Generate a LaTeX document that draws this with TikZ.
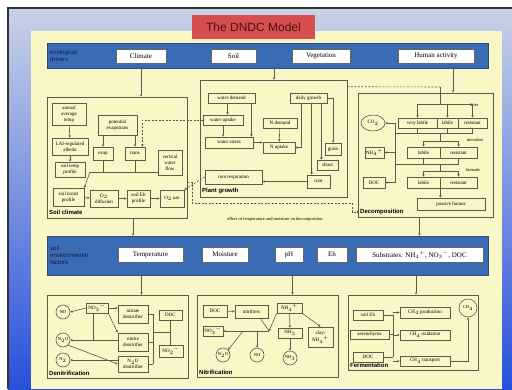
\documentclass[tikz,border=0pt]{standalone}
\usepackage{fontspec}
\setmainfont{Liberation Serif}
\setsansfont{Liberation Sans}
\usetikzlibrary{arrows.meta,shapes.geometric,calc}
\definecolor{panel}{RGB}{250,247,198}
\definecolor{bandblue}{RGB}{58,108,182}
\definecolor{titlered}{RGB}{214,78,78}
\definecolor{titletxt}{RGB}{80,15,15}
\definecolor{bgtop}{RGB}{200,210,230}
\definecolor{bgbot}{RGB}{40,80,220}
\definecolor{edge}{RGB}{90,90,80}
\definecolor{navy}{RGB}{20,25,60}
\tikzset{
 box/.style={draw=edge, line width=0.6pt, inner sep=0pt, align=center, font=\fontsize{5}{5.8}\selectfont},
 wbox/.style={draw=black!60, fill=white, line width=0.5pt, inner sep=0pt, font=\fontsize{7}{8}\selectfont},
 circ/.style={circle, draw=edge, line width=0.6pt, inner sep=0pt, minimum size=14pt, font=\fontsize{4.5}{5}\selectfont},
 conn/.style={draw=edge, line width=0.6pt},
 arw/.style={conn, -{Stealth[length=2.5pt,width=2.5pt]}},
 dconn/.style={conn, dash pattern=on 2pt off 1.5pt},
 sublab/.style={font=\sffamily\bfseries\fontsize{6}{7}\selectfont, anchor=west, inner sep=1pt},
 lab/.style={font=\fontsize{4.5}{5}\selectfont, inner sep=0pt},
 bandlab/.style={font=\sffamily\fontsize{6}{6.8}\selectfont, text=navy, align=left, anchor=west, inner sep=0pt},
}
\newcommand{\mybox}[7][]{\node[box,minimum width={(#5-#3)*1pt},minimum height={(#6-#4)*1pt},#1] (#2) at ({(#3+#5)/2},{(#4+#6)/2}) {#7};}
\begin{document}
\begin{tikzpicture}[x=1pt,y=-1pt]
\useasboundingbox (0,0) rectangle (512,389);
\fill[white] (0,0) rectangle (512,389);
\shade[top color=bgtop, bottom color=bgbot] (8,8) rectangle (512,389);
\draw[line width=1.5pt, black!80] (8,389) -- (8,8) -- (512,8);
\fill[panel] (31,31) rectangle (502,389);
% title
\mybox[fill=titlered, draw=none, text=titletxt, font=\sffamily\fontsize{12}{12}\selectfont]{title}{192}{15}{315}{39}{The DNDC Model}
% band 1
\mybox[fill=bandblue, draw=bandblue!70!black]{band1}{47}{43}{488}{68}{}
\node[bandlab] (eco) at (50,55.5) {ecological\\drivers};
\mybox[wbox]{climate}{116}{49}{166}{63}{Climate}
\mybox[wbox]{soil}{211}{49}{256}{63}{Soil}
\mybox[wbox]{veg}{292}{49}{350}{63}{Vegetation}
\mybox[wbox]{human}{398}{49}{474}{63}{Human activity}
% soil climate
\mybox{sc}{47}{97}{187}{218}{}
\node[sublab] (sclab) at (48,212) {Soil climate};
\mybox{aat}{52}{103}{86}{125}{annual\\average\\temp}
\mybox{lai}{52}{138}{88}{155}{LAI-regulated\\albedo}
\mybox{stp}{55}{162}{85}{177}{soil temp\\profile}
\mybox{pet}{98}{115}{137}{135}{potential\\evapotrans}
\mybox{evap}{93}{147}{113}{160}{evap}
\mybox{trans}{125}{147}{145}{160}{trans}
\mybox{vwf}{158}{150}{182}{175}{vertical\\water\\flow}
\mybox{smp}{53}{188}{84}{206}{soil moist\\profile}
\mybox{dif}{90}{190}{118}{207}{O$_2$\\diffusion}
\mybox{seh}{127}{190}{150}{207}{soil Eh\\profile}
\mybox{o2u}{160}{190}{184}{207}{O$_2$ use}
\draw[arw] (aat) -- (lai);
\draw[arw] (lai) -- (stp);
\draw[arw] (pet.south -| evap.north) -- (evap.north);
\draw[arw] (pet.south -| trans.north) -- (trans.north);
\coordinate (jl) at (90,172);
\draw[conn] (jl) -- (vwf.west |- jl);
\draw[conn] (evap) -- (evap |- jl);
\draw[conn] (trans) -- (trans |- jl);
\draw[arw] (jl) -- (smp.north east);
\draw[arw] (smp) -- (dif);
\draw[arw] (dif) -- (seh);
\draw[arw] (seh) -- (o2u);
\draw[arw] (climate |- band1.south) -- (climate |- sc.north);
% plant growth
\mybox{pg}{200}{80}{347}{197}{}
\node[sublab] (pglab) at (201,191) {Plant growth};
\mybox{wdem}{208}{93}{255}{103}{water demand}
\mybox{wupt}{203}{115}{243}{125}{water uptake}
\mybox{wstr}{205}{137}{253}{148}{water stress}
\mybox{dgr}{290}{93}{327}{103}{daily growth}
\mybox{ndem}{263}{118}{297}{128}{N demand}
\mybox{nupt}{263}{142}{295}{153}{N uptake}
\mybox{grain}{325}{143}{341}{155}{grain}
\mybox{shoot}{317}{160}{338}{170}{shoot}
\mybox{root}{307}{175}{330}{188}{root}
\mybox{rresp}{205}{170}{262}{184}{root respiration}
\draw[arw] ([xshift=-4]wdem.south) -- ([xshift=-4]wdem.south |- wupt.north);
\draw[arw] (wupt) -- (wupt |- wstr.north);
\draw[arw] ([xshift=-4]wdem.south east) -- ([xshift=-4]wdem.south east |- wstr.north);
\draw[arw] (wstr.east) -- (nupt.west |- wstr.east);
\draw[arw] (ndem) -- (nupt);
\draw[arw] ([xshift=12]dgr.south west) |- (nupt.east);
\draw[arw] (dgr.east) -| (grain.north);
\draw[arw] ([xshift=-6]dgr.south east) -- ([xshift=-6]dgr.south east |- shoot.north);
\draw[arw] ([xshift=22]dgr.south west) -- ([xshift=22]dgr.south west |- root.north);
\draw[arw] (root.west) -- (rresp.east |- root.west);
\coordinate (sv) at ($(soil.east)!0.5!(veg.west)$);
\draw[arw] (sv |- band1.south) -- (sv |- pg.north);
\draw[dconn,-{Stealth[length=2.5pt,width=2.5pt]}] (wupt.west) -| ([xshift=-3]trans.north east);
\draw[dconn,-{Stealth[length=2.5pt,width=2.5pt]}] (rresp.west) -- (o2u.north east);
% effect text
\node[lab] (eff) at (275,219) {effect of temperature and moisture on decomposition};
% decomposition
\mybox{dc}{358}{93}{493}{217}{}
\node[sublab] (declab) at (359,212) {Decomposition};
\node[ellipse, draw=edge, line width=0.6pt, inner sep=0pt, minimum width=24pt, minimum height=16pt, font=\fontsize{5}{5}\selectfont] (co2) at (373,123) {CO$_2$};
\mybox{nh4}{365}{147}{384}{158}{NH$_4{}^+$}
\mybox{doca}{363}{177}{385}{188}{DOC}
\mybox{vl}{398}{118}{437}{128}{very labile}
\mybox{la}{437}{118}{458}{128}{labile}
\mybox{ra}{458}{118}{487}{128}{resistant}
\node[lab] (litter) at (474,105) {litter};
\mybox{lb}{407}{147}{440}{158}{labile}
\mybox{rb}{440}{147}{477}{158}{resistant}
\node[lab] (microbes) at (475,140) {microbes};
\mybox{lc}{407}{177}{440}{188}{labile}
\mybox{rc}{440}{177}{477}{188}{resistant}
\node[lab] (humads) at (473,170) {humads};
\mybox{phum}{417}{198}{485}{210}{passive humus}
\coordinate (lt) at (440,87);
\coordinate (brk) at (440,104);
\draw[dconn] ([yshift=-7]pg.north east) -- (lt);
\draw[conn] (lt) -- (brk);
\draw[conn] (vl.north |- brk) -- (ra.north |- brk);
\draw[arw] (vl.north |- brk) -- (vl.north);
\draw[arw] (la.north |- brk) -- (la.north);
\draw[arw] (ra.north |- brk) -- (ra.north);
\draw[arw] ([xshift=17]human.south |- band1.south) -- ([xshift=17]human.south |- dc.north);
\coordinate (b1) at (440,133);
\coordinate (b2) at (440,141);
\coordinate (b3) at (440,164);
\coordinate (b4) at (440,171);
\draw[conn] (vl.south) -- (vl.south |- b1);
\draw[conn] (la.south) -- (la.south |- b1);
\draw[conn] (ra.south) -- (ra.south |- b1);
\draw[conn] (vl.south |- b1) -- (ra.south |- b1);
\draw[conn] (b1) -- (b2);
\draw[conn] (lb.north |- b2) -- (rb.north |- b2);
\draw[arw] (lb.north |- b2) -- (lb.north);
\draw[arw] (rb.north |- b2) -- (rb.north);
\draw[conn] (lb.south) -- (lb.south |- b3);
\draw[conn] (rb.south) -- (rb.south |- b3);
\draw[conn] (lb.south |- b3) -- (rb.south |- b3);
\draw[conn] (b3) -- (b4);
\draw[conn] (lc.north |- b4) -- (rc.north |- b4);
\draw[arw] (lc.north |- b4) -- (lc.north);
\draw[arw] (rc.north |- b4) -- (rc.north);
\draw[arw] (lc.south east) -- (lc.south east |- phum.north);
\coordinate (bt) at (395,123);
\coordinate (bb) at (395,182.5);
\draw[conn] (bt) -- (bb);
\draw[arw] (bt) -- (co2.east);
\draw[arw] (nh4.east -| bt) -- (nh4.east);
\draw[arw] (doca.east -| bt) -- (doca.east);
\draw[conn] (bt |- b1) -- (vl.south |- b1);
\draw[conn] (bt |- b3) -- (lb.south |- b3);
\coordinate (d1) at (192,203);
\coordinate (d2) at (352,203);
\draw[dconn,-{Stealth[length=2.5pt,width=2.5pt]}] ([yshift=-25]sc.east) -| (d1) -- (d2) |- (declab.west);
% band 2
\mybox[fill=bandblue, draw=bandblue!70!black]{band2}{47}{236}{488}{275}{}
\node[bandlab] (env) at (50,255.5) {soil\\environmental\\factors};
\mybox[wbox]{temp}{118}{247}{183}{262}{Temperature}
\mybox[wbox]{moist}{202}{247}{248}{262}{Moisture}
\mybox[wbox]{phv}{275}{247}{303}{262}{pH}
\mybox[wbox]{eh}{317}{247}{347}{262}{Eh}
\mybox[wbox]{subs}{356}{247}{483}{262}{Substrates: NH$_4{}^+$, NO$_3{}^-$, DOC}
\draw[arw] ([xshift=16]sc.south) -- ([xshift=16]sc.south |- band2.north);
\draw[arw] ([xshift=-6]dc.south) -- ([xshift=-6]dc.south |- band2.north);
% denitrification
\mybox{dn}{47}{295}{188}{378}{}
\node[sublab] (dnlab) at (48,373) {Denitrification};
\node[circ] (cno) at (63,312) {NO};
\node[circ] (cn2o) at (63,340) {N$_2$O};
\node[circ] (cn2) at (63,360) {N$_2$};
\mybox{dno3}{86}{303}{108}{313}{NO$_3{}^-$}
\mybox{nad}{118}{305}{148}{323}{nitrate\\denitrifier}
\mybox{nid}{118}{333}{148}{351}{nitrite\\denitrifier}
\mybox{n2od}{118}{356}{148}{372}{N$_2$O\\denitrifier}
\mybox{ddoc}{159}{310}{182}{320}{DOC}
\mybox{dno2}{159}{345}{183}{357}{NO$_2{}^-$}
\draw[arw] ([xshift=24]dn.north |- band2.south) -- ([xshift=24]dn.north);
\draw[arw] (dno3.east) -- (nad.west |- dno3.east);
\draw[arw] (dno3.west) -- (cno.east);
\draw[arw] (dno3.south east) -- (nid.north west);
\draw[conn] ([xshift=-4]dno3.south) -- ([xshift=-4]dno3.south |- cn2o.east);
\draw[arw] (nid.west |- cn2o.east) -- (cn2o.east);
\draw[arw] (cn2o.south east) -- (n2od.west);
\draw[arw] (n2od.west |- cn2.east) -- (cn2.east);
\coordinate (rb1) at (153,314);
\coordinate (rj) at (170,332);
\draw[conn] (nad.east) -- (nad.east -| rb1);
\draw[conn] (nid.east) -- (nid.east -| rb1);
\draw[conn] (n2od.east) -- (n2od.east -| rb1);
\draw[conn] (rb1 |- nad.east) -- (rb1 |- n2od.east);
\draw[conn] (rb1 |- rj) -- (rj);
\draw[conn] (ddoc.south -| rj) -- (dno2.north -| rj);
% nitrification
\mybox{nt}{197}{295}{338}{377}{}
\node[sublab] (ntlab) at (198,372) {Nitrification};
\mybox{ndoc}{203}{305}{227}{317}{DOC}
\mybox{nitr}{235}{305}{268}{318}{nitrifiers}
\mybox{nnh4}{277}{303}{302}{313}{NH$_4{}^+$}
\mybox{nno3}{203}{326}{223}{336}{NO$_3{}^-$}
\mybox{nnh3}{278}{328}{302}{338}{NH$_3$}
\mybox{clay}{308}{327}{333}{347}{clay-\\NH$_4{}^+$}
\node[circ] (tn2o) at (223,355) {N$_2$O};
\node[circ] (tno) at (257,355) {NO};
\node[circ] (tnh3) at (290,358) {NH$_3$};
\draw[arw] ([xshift=25]nt.north |- band2.south) -- ([xshift=25]nt.north);
\draw[arw] (ndoc) -- (nitr);
\coordinate (nj) at (269,331);
\draw[arw] (nnh4.south west) -- (nj);
\draw[conn] ([xshift=-8]nitr.south east) -- (nj);
\draw[arw] (nj) -- (nno3.east |- nj);
\draw[arw] (tno.north |- nj) -- (tno.north);
\coordinate (nk) at (243,331);
\draw[arw] (nk) -- (tn2o.north east);
\draw[arw] (nnh4) -- (nnh3);
\draw[arw] (nnh4.south east) -- (clay.north);
\draw[arw] (nnh3) -- (tnh3);
% fermentation
\mybox{fm}{348}{295}{478}{370}{}
\node[sublab] (fmlab) at (349,365) {Fermentation};
\mybox{seh2}{353}{310}{383}{320}{soil Eh}
\mybox{aer}{350}{330}{389}{339}{aerenchyma}
\mybox{fdoc}{353}{352}{383}{362}{DOC}
\mybox{cp}{400}{307}{450}{318}{CH$_4$ production}
\mybox{cox}{400}{330}{450}{340}{CH$_4$ oxidation}
\mybox{ct}{400}{356}{450}{366}{CH$_4$ transport}
\node[circ, minimum size=18pt] (cch4) at (468,308) {CH$_4$};
\draw[arw] ([xshift=3]fm.north |- band2.south) -- ([xshift=3]fm.north);
\coordinate (fb) at (393,315);
\draw[conn] (seh2.east) -- (seh2.east -| fb);
\draw[conn] (aer.east) -- (aer.east -| fb);
\draw[conn] (fdoc.east) -- (fdoc.east -| fb);
\draw[conn] (fb |- seh2.east) -- (fb |- fdoc.east);
\draw[arw] (cp.west -| fb) -- (cp.west);
\draw[arw] (cox.west -| fb) -- (cox.west);
\draw[arw] (ct.west -| fb) -- (ct.west);
\draw[arw] (ct.east) -| (cch4.south);
\end{tikzpicture}
\end{document}
